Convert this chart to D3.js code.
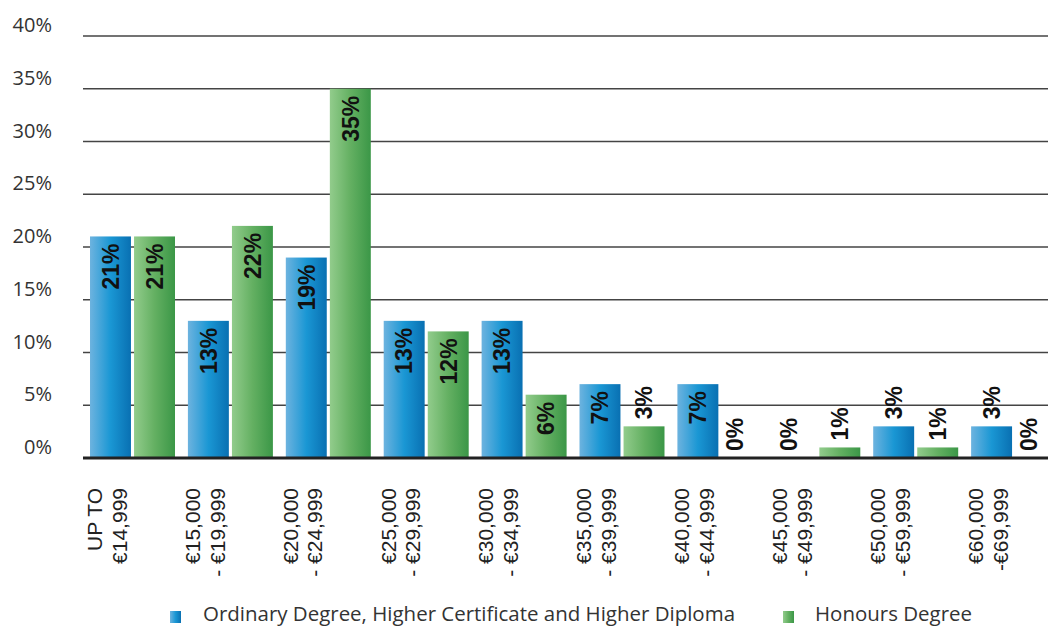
<!DOCTYPE html>
<html><head><meta charset="utf-8">
<script src="https://cdn.jsdelivr.net/npm/d3@7"></script>
<style>body{margin:0;background:#fff}svg{display:block}</style>
</head><body>
<svg id="c" width="1048" height="627"></svg>
<script>
const categories = [["UP TO","€14,999"],["€15,000","- €19,999"],["€20,000","- €24,999"],["€25,000","- €29,999"],["€30,000","- €34,999"],["€35,000","- €39,999"],["€40,000","- €44,999"],["€45,000","- €49,999"],["€50,000","- €59,999"],["€60,000","-€69,999"]];
const seriesNames = ["Ordinary Degree, Higher Certificate and Higher Diploma","Honours Degree"];
const ordinary = [21,13,19,13,13,7,7,0,3,3];
const honours = [21,22,35,12,6,3,0,1,1,0];
const yTicks = [0,5,10,15,20,25,30,35,40];

const svg = d3.select("#c");
const defs = svg.append("defs");
function grad(id, stops){
  const g = defs.append("linearGradient").attr("id",id).attr("x1","0").attr("x2","1").attr("y1","0").attr("y2","0");
  stops.forEach(s=>g.append("stop").attr("offset",s[0]).attr("stop-color",s[1]));
}
grad("gb",[[0,"#6db3df"],[0.5,"#1a97d4"],[1,"#0970b2"]]);
grad("gg",[[0,"#92cc8c"],[0.5,"#64b062"],[1,"#3b9747"]]);
const fills = ["url(#gb)","url(#gg)"];

const idx = d3.range(categories.length);
const x = d3.scaleBand().domain(idx).range([83, 83+97.9*categories.length]).padding(0);
const xs = d3.scaleBand().domain([0,1]).range([7,92]).paddingInner(0.07);
const y = d3.scaleLinear().domain([0,40]).range([458,36]);

// gridlines
svg.append("g").selectAll("line").data(yTicks.filter(t=>t>0)).join("line")
  .attr("x1",83).attr("x2",1048).attr("y1",d=>y(d)).attr("y2",d=>y(d))
  .attr("stroke","#444").attr("stroke-width",1.5);

// y labels
svg.append("g").selectAll("text").data(yTicks).join("text")
  .attr("x",52).attr("y",d=>y(d)-11).attr("dy","0.35em")
  .attr("text-anchor","end").attr("font-family","Open Sans").attr("font-size",20).attr("fill","#333")
  .text(d=>d+"%");

const series = [ordinary, honours];
series.forEach((vals,s)=>{
  const g = svg.append("g");
  g.selectAll("rect").data(idx).join("rect")
    .attr("x",i=>x(i)+xs(s)).attr("width",xs.bandwidth())
    .attr("y",i=>y(vals[i])).attr("height",i=>y(0)-y(vals[i]))
    .attr("fill",fills[s]);
  g.selectAll("text").data(idx).join("text")
    .attr("transform",i=>{
      const cx = x(i)+xs(s)+xs.bandwidth()/2 - (vals[i]===0?7:0);
      const inside = vals[i]>=6;
      const yy = inside ? y(vals[i])+7 : y(vals[i])-7;
      return `translate(${cx},${yy}) rotate(-90)`;
    })
    .attr("text-anchor",i=>vals[i]>=6?"end":"start")
    .attr("dy","0.36em")
    .attr("font-family","Liberation Sans, Arial").attr("font-weight","bold").attr("font-size",23).attr("fill","#111")
    .text(i=>vals[i]+"%");
});

// axis line
svg.append("line").attr("x1",83).attr("x2",1048).attr("y1",y(0)).attr("y2",y(0))
  .attr("stroke","#222").attr("stroke-width",3);

// x labels
const xl = svg.append("g").selectAll("text").data(idx).join("text")
  .attr("transform",i=>`translate(${x(i)+7+xs.bandwidth()/2-16},488) rotate(-90)`)
  .attr("text-anchor","end").attr("font-family","Liberation Sans, Arial").attr("font-size",21).attr("fill","#222");
xl.selectAll("tspan").data(i=>categories[i]).join("tspan")
  .attr("x",0).attr("dy",(d,k)=>k===0?"0.35em":"1.18em").text(d=>d);

// legend
const leg = [{x:170,tx:203,w:532},{x:783,tx:815,w:157}];
leg.forEach((l,s)=>{
  svg.append("rect").attr("x",l.x).attr("y",611).attr("width",11).attr("height",12).attr("fill",fills[s]);
  svg.append("text").attr("x",l.tx).attr("y",621).attr("font-family","Open Sans").attr("font-size",20)
    .attr("fill","#333").attr("textLength",l.w).attr("lengthAdjust","spacingAndGlyphs").text(seriesNames[s]);
});
</script>
</body></html>
